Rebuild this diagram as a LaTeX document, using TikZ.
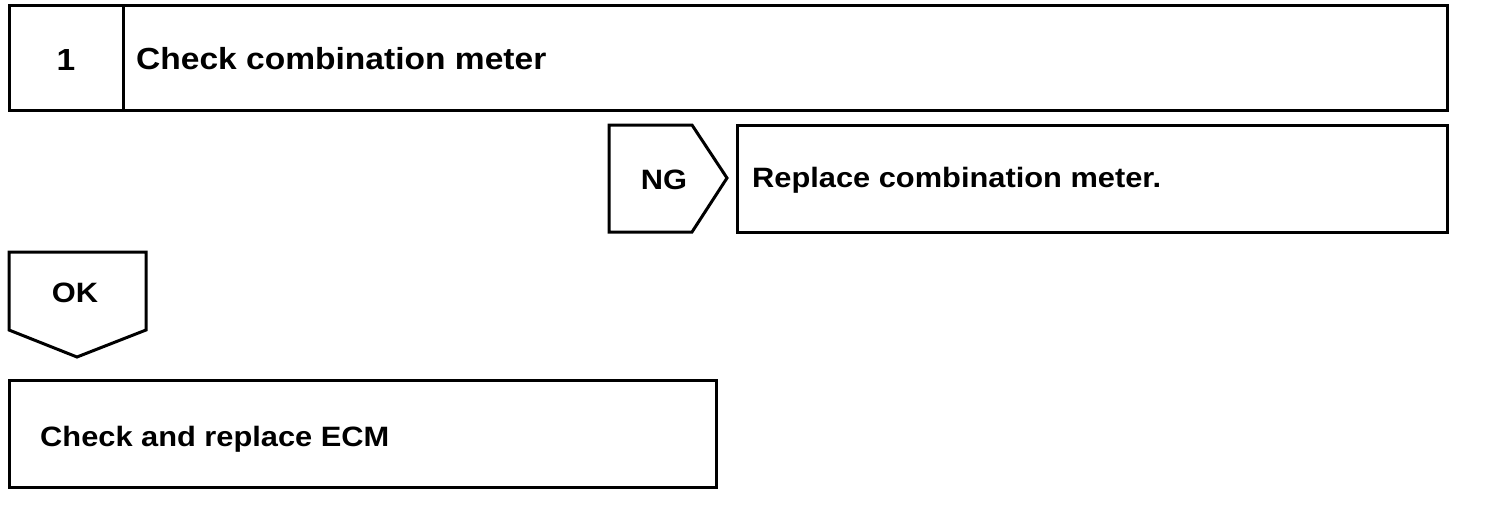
\documentclass[tikz,border=0pt]{standalone}
\usepackage{fontspec}
\setmainfont[FakeStretch=1.1]{Liberation Sans}
\usetikzlibrary{positioning}
\tikzstyle{stepbox} = [rectangle, draw=black, line width=3pt, inner sep=0pt, outer sep=0pt, anchor=north west]
\tikzstyle{flag} = [draw=black, line width=3pt, line join=miter]
\tikzstyle{txt} = [inner sep=0pt, anchor=base west, font=\fontsize{28}{34}\selectfont\bfseries]
\tikzstyle{tag} = [inner sep=0pt, anchor=base, font=\fontsize{28}{34}\selectfont\bfseries]
\tikzstyle{big} = [font=\fontsize{30.5}{36}\selectfont\bfseries]

\begin{document}
\begin{tikzpicture}[x=1pt, y=-1pt]
\useasboundingbox (0,0) rectangle (1504,512);
% step 1
\node (num) [stepbox, minimum width=114pt, minimum height=105pt] at (9,5) {};
\node (title) [stepbox, minimum width=1324pt, minimum height=105pt] at (123,5) {};
\node (numtxt) [tag, big] at (66,70) {1};
\node (titletxt) [txt, big] at (136,69) {Check combination meter};
% NG branch
\draw [flag] (609,125) -- (692,125) -- (727,178) -- (692,232) -- (609,232) -- cycle;
\node (ng) [tag] at (664,189) {NG};
\node (replace) [stepbox, minimum width=710pt, minimum height=107pt] at (737,125) {};
\node (replacetxt) [txt] at (752,187) {Replace combination meter.};
% OK branch
\draw [flag] (9,252) -- (146,252) -- (146,330) -- (77,357) -- (9,330) -- cycle;
\node (ok) [tag] at (75,302) {OK};
\node (ecm) [stepbox, minimum width=707pt, minimum height=107pt] at (9,380) {};
\node (ecmtxt) [txt] at (40,446) {Check and replace ECM};
\end{tikzpicture}
\end{document}
